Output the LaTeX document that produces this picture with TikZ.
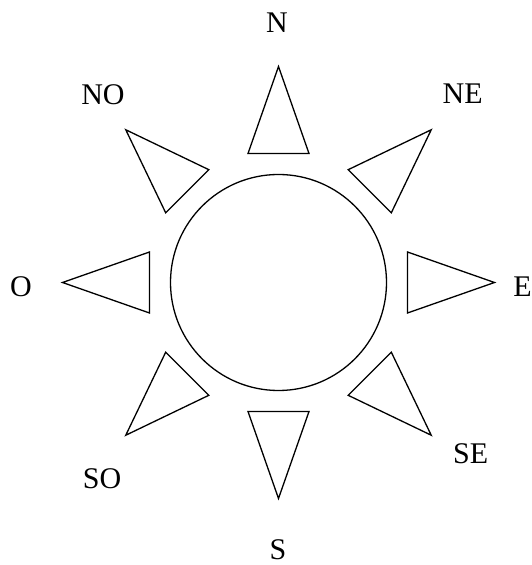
\documentclass[tikz,border=0pt]{standalone}
\usepackage{fontspec}
\setmainfont{Liberation Serif}
\usetikzlibrary{calc}
\tikzset{
  ray/.style={draw=black, line width=1.3pt, line join=miter, fill=white},
  ring/.style={draw=black, line width=1.3pt},
  dirlabel/.style={inner sep=0pt, font=\fontsize{30}{36}\selectfont}
}
\begin{document}
\begin{tikzpicture}[x=1pt,y=1pt]
  \useasboundingbox (0,0) rectangle (531,565);
  \coordinate (c) at (278.5,282.5);
  \draw[ring] (c) circle[radius=108];
  \foreach \a in {0,45,...,315}{
    \draw[ray] ($(c)+(\a:216)$) -- ($(c)+(\a:129)+(\a+90:30.5)$) -- ($(c)+(\a:129)+(\a-90:30.5)$) -- cycle;
  }
  \node[dirlabel] (lN)  at (277,542)   {N};
  \node[dirlabel] (lS)  at (278,15)    {S};
  \node[dirlabel] (lE)  at (522.5,278) {E};
  \node[dirlabel] (lO)  at (21,278)    {O};
  \node[dirlabel] (lNE) at (462.7,471) {NE};
  \node[dirlabel] (lNO) at (103,470)   {NO};
  \node[dirlabel] (lSE) at (470.7,111) {SE};
  \node[dirlabel] (lSO) at (102,86)    {SO};
\end{tikzpicture}
\end{document}
